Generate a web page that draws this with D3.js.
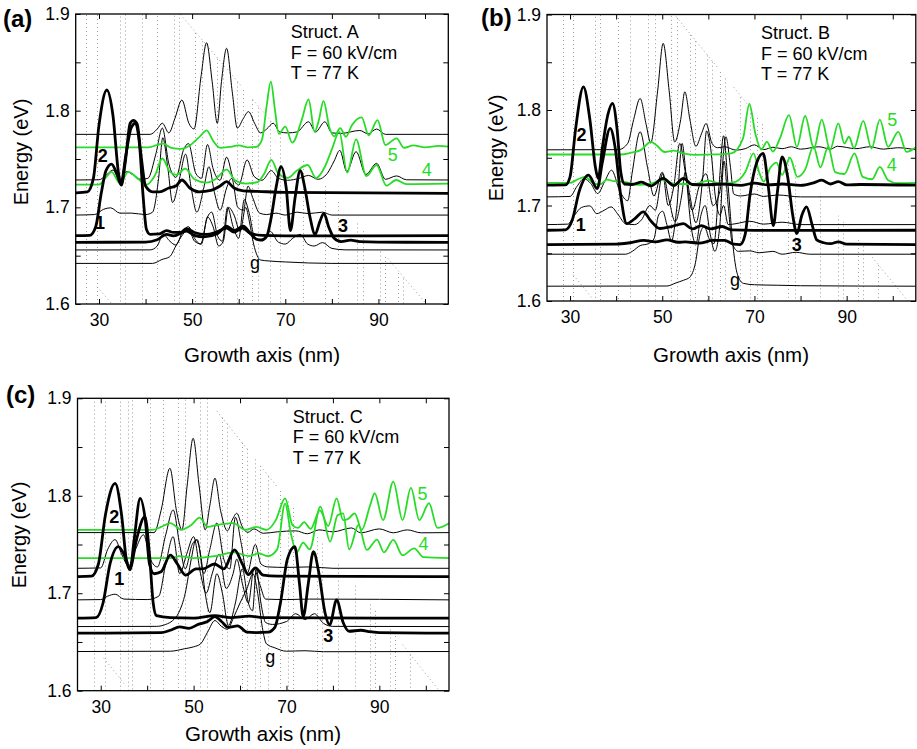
<!DOCTYPE html>
<html>
<head>
<meta charset="utf-8">
<script src="https://cdn.jsdelivr.net/npm/d3@7"></script>
<style>
  body { margin: 0; background: #fff; }
  svg { display: block; }
  text { font-family: "Liberation Sans", Arial, Helvetica, sans-serif; }
</style>
</head>
<body>
<div id="container"></div>
<script>
// axes
const xTicks = [30, 40, 50, 60, 70, 80, 90, 100];
const xTickLabels = [30, 50, 70, 90];
const yTicks = [1.6, 1.65, 1.7, 1.75, 1.8, 1.85, 1.9];
const yTickLabels = [1.6, 1.7, 1.8, 1.9];
const xDomain = [25, 105];
const yDomain = [1.6, 1.9];

// ---------- panel (a), Struct. A ----------
const aThick1 = [[25,1.6707],[28,1.671],[29.3,1.68],[30.5,1.715],[31.5,1.738],[32.7,1.7448],[33.8,1.735],[34.7,1.724],[35.8,1.755],[36.9,1.782],[37.8,1.787],[38.7,1.765],[39.5,1.71],[40.2,1.677],[41,1.672],[43,1.6725],[44.5,1.676],[46,1.674],[47.5,1.674],[48.8,1.678],[50.5,1.674],[53,1.672],[55,1.674],[57.4,1.6785],[59,1.6745],[60.8,1.6785],[62.5,1.673],[65,1.671],[70,1.6705],[105,1.6707]];
const aThick2 = [[25,1.715],[27.5,1.716],[28.8,1.73],[30,1.785],[31.7,1.8214],[33,1.795],[34.2,1.735],[34.8,1.723],[35.6,1.745],[36.7,1.787],[37.4,1.79],[38.2,1.786],[39,1.755],[40,1.722],[41.5,1.716],[43,1.716],[45,1.72],[46.5,1.722],[47.8,1.7283],[49.5,1.72],[51.5,1.716],[54,1.7175],[56,1.722],[57.4,1.7265],[59,1.72],[61,1.717],[64,1.7165],[70,1.7155],[105,1.7145]];
const aThick3 = [[25,1.6638],[40,1.664],[42.5,1.6665],[44.5,1.672],[46,1.6705],[48.8,1.6755],[50.5,1.671],[52.5,1.6695],[55.5,1.673],[57.4,1.6805],[59,1.676],[61,1.6805],[62.5,1.673],[63.8,1.667],[64.8,1.666],[66,1.67],[67,1.69],[68,1.72],[69.1,1.742],[70.2,1.72],[71.1,1.676],[72.1,1.71],[73.2,1.738],[74.2,1.72],[75.3,1.69],[76.4,1.672],[77.4,1.685],[78.3,1.6938],[79.3,1.68],[80.5,1.668],[82,1.6645],[84,1.666],[86,1.6645],[90,1.664],[105,1.6638]];
const aGreen4 = [[25,1.7235],[30,1.7235],[31.5,1.731],[32.7,1.7366],[34.5,1.7248],[36.3,1.7366],[38.5,1.729],[40.2,1.7235],[42,1.733],[43.6,1.7505],[45.2,1.737],[46.6,1.7335],[48.5,1.74],[50.5,1.729],[53,1.7255],[55,1.729],[57.4,1.739],[59.2,1.728],[61.5,1.7245],[64,1.726],[65.5,1.735],[67,1.749],[68.5,1.735],[70.5,1.7305],[72.5,1.738],[74.8,1.7438],[76.6,1.7303],[78.5,1.742],[80,1.76],[81.6,1.778],[83.3,1.7359],[85.2,1.7703],[87.4,1.7324],[89.6,1.7438],[91.7,1.7224],[93.8,1.7283],[96,1.724],[105,1.7245]];
const aGreen5 = [[25,1.762],[40.5,1.762],[42.2,1.764],[43.8,1.766],[45.5,1.7615],[47.5,1.7605],[49.5,1.764],[51.8,1.774],[53.1,1.7797],[54.6,1.768],[56,1.7615],[58,1.7625],[60,1.764],[62,1.762],[63.8,1.7625],[65,1.77],[66,1.805],[66.9,1.83],[67.8,1.8],[68.6,1.776],[70,1.7834],[71.5,1.767],[73.5,1.79],[75,1.8117],[76.3,1.778],[77.2,1.79],[78.2,1.81],[79.5,1.782],[80.5,1.7735],[81.8,1.782],[83,1.773],[84.3,1.785],[86.4,1.7931],[87.9,1.7745],[89.8,1.7903],[91.5,1.7645],[93.9,1.7714],[95.5,1.7615],[97.5,1.764],[100,1.762],[103,1.7635],[105,1.7628]];
const aThin1 = [[25,1.7755],[41,1.7755],[42.5,1.781],[43.6,1.787],[45,1.777],[46.3,1.792],[47.8,1.811],[49.3,1.787],[50.4,1.781],[51.9,1.835],[53.1,1.8703],[54.3,1.83],[55.4,1.787],[56.3,1.83],[57.4,1.8645],[58.6,1.82],[59.7,1.782],[61,1.792],[62.1,1.799],[63.4,1.787],[64.7,1.777],[66,1.781],[67.4,1.787],[68.8,1.778],[70.5,1.777],[72.5,1.778],[75,1.7885],[76.5,1.778],[78.5,1.7885],[80,1.777],[82,1.7765],[86,1.7795],[87.8,1.776],[89.6,1.781],[91.5,1.7755],[105,1.7755]];
const aThin2 = [[25,1.7283],[30,1.7285],[31.5,1.733],[33,1.7386],[34.5,1.728],[35.9,1.737],[37.5,1.733],[39,1.729],[40.5,1.73],[42.2,1.755],[43.6,1.782],[45,1.745],[46.5,1.731],[48.2,1.76],[49.2,1.766],[50.8,1.735],[52,1.73],[53.3,1.765],[54.5,1.74],[56,1.728],[57.4,1.752],[58.8,1.73],[60,1.723],[61.8,1.749],[63.3,1.732],[65,1.728],[67,1.738],[68.5,1.73],[70.5,1.728],[73,1.73],[75,1.733],[77,1.729],[79,1.735],[80.5,1.748],[81.7,1.759],[83.2,1.737],[85.2,1.7576],[87.3,1.734],[89.6,1.7455],[91.5,1.729],[93.9,1.7325],[96,1.7285],[105,1.7283]];
const aThin3 = [[25,1.692],[29,1.6925],[31,1.698],[32.5,1.6995],[34.5,1.694],[37,1.694],[40,1.6925],[41.5,1.695],[42.8,1.73],[43.7,1.772],[44.8,1.74],[45.8,1.705],[47.3,1.73],[48.6,1.755],[49.8,1.72],[51,1.695],[52.5,1.72],[53.6,1.742],[54.8,1.715],[56,1.697],[57.4,1.72],[58.5,1.73],[59.8,1.7],[61,1.697],[62,1.722],[63,1.71],[64.5,1.694],[66,1.6925],[68,1.694],[70,1.692],[72.5,1.695],[75,1.6935],[78,1.695],[80,1.692],[105,1.692]];
const aThin4 = [[25,1.6559],[41,1.656],[42.5,1.66],[43.8,1.672],[45.2,1.665],[46.5,1.661],[48,1.675],[49.2,1.68],[50.5,1.668],[51.8,1.662],[53.3,1.69],[54.2,1.695],[55.5,1.67],[56.5,1.665],[57.6,1.7],[58.8,1.68],[60,1.668],[61.2,1.708],[62.2,1.695],[63.5,1.668],[65,1.667],[66.8,1.675],[68.5,1.664],[70,1.662],[71.6,1.668],[73.2,1.672],[74.8,1.662],[76.2,1.66],[78,1.6635],[80,1.6575],[83,1.656],[105,1.6559]];
const aGround = [[25,1.642],[41.5,1.642],[43.5,1.646],[45.2,1.649],[46.5,1.66],[48,1.672],[49.2,1.678],[50.5,1.665],[52,1.662],[53.3,1.69],[54.5,1.68],[55.7,1.66],[56.7,1.665],[57.8,1.7],[59,1.692],[60.3,1.675],[61.5,1.7],[62.3,1.685],[63.2,1.662],[64.7,1.6455],[66.5,1.6445],[70,1.6435],[80,1.642],[105,1.642]];
const aLabels = [["2",30.8,1.7531],["1",30.2,1.6838],["3",82.4,1.6807],["5",93.1,1.7541],["4",100.4,1.7386],["g",63.5,1.6424]];
const aInterfaces = [27.2,29.5,34.5,35.6,39.2,42.4,46.0,47.1,50.6,52.1,55.3,56.7,59.6,61.0,62.8,64.2,66.7,68.9,73.9,78.5,81.4,85.3,86.7,90.4,91.4,94.3,95.3];
const aBarrierTop = [[51.3,1.878],[99.6,1.604]];
const aBarrierSpans = [[47.5,60.5],[63,67],[92,105]];
const aWellBottom = [[30.2,1.6145],[35.2,1.5861]];
const aWellSpans = [[29.6,34]];

// ---------- panel (b), Struct. B ----------
const bThick1 = [[25,1.6741],[29,1.6745],[30.5,1.685],[32,1.715],[34,1.7318],[35.9,1.7178],[37,1.745],[38.7,1.7807],[39.8,1.76],[41,1.71],[42.3,1.6811],[44,1.686],[45.9,1.6933],[47.5,1.684],[49.5,1.6759],[52,1.678],[54.6,1.681],[56.5,1.6755],[58.5,1.679],[60.5,1.6755],[63,1.678],[65,1.6745],[70,1.674],[105,1.6741]];
const bThick2 = [[25,1.7213],[29,1.7215],[30,1.73],[31.2,1.78],[32.9,1.8243],[34.3,1.79],[35.5,1.74],[36.1,1.7283],[37,1.76],[38.2,1.795],[39.2,1.807],[40.2,1.78],[41,1.735],[41.8,1.7225],[43.5,1.722],[45.5,1.7245],[47.5,1.7205],[50.2,1.7283],[52.5,1.721],[54.6,1.7283],[56.5,1.722],[59,1.7215],[63,1.7225],[67,1.721],[70,1.7235],[73,1.7215],[76,1.7225],[80,1.721],[83,1.724],[84.6,1.7265],[86.5,1.7225],[88.2,1.725],[90,1.7215],[93,1.722],[105,1.7213]];
const bThick3 = [[25,1.6591],[40,1.6595],[43,1.661],[46,1.6635],[48.5,1.662],[51,1.664],[53.5,1.6615],[55,1.662],[58,1.6605],[61,1.6635],[63.5,1.6635],[65.5,1.6595],[66.9,1.659],[68,1.67],[69,1.71],[70.5,1.745],[71.9,1.7545],[73,1.72],[74.1,1.679],[75,1.715],[76,1.751],[77.2,1.73],[78.3,1.69],[79.2,1.6706],[80.3,1.69],[81.3,1.6985],[82.5,1.68],[83.5,1.664],[85,1.661],[86.5,1.66],[88.2,1.662],[90,1.6595],[105,1.6591]];
const bGreen4 = [[25,1.7236],[30,1.7236],[31.5,1.727],[33.3,1.73],[35,1.7235],[36.5,1.722],[38,1.727],[39.5,1.7255],[42,1.7245],[45,1.7215],[47.5,1.723],[50,1.7265],[53,1.7225],[57,1.7225],[60,1.726],[63,1.7225],[66,1.725],[68,1.735],[69.8,1.7545],[71,1.735],[72,1.725],[73.5,1.74],[74.8,1.745],[76,1.732],[77.7,1.75],[79.3,1.73],[81,1.7375],[82.8,1.762],[84.3,1.74],[86,1.7615],[87.5,1.735],[89.5,1.733],[91.7,1.7545],[93.5,1.73],[95.5,1.7275],[97.2,1.7405],[99,1.7265],[101,1.7235],[105,1.7236]];
const bGreen5 = [[25,1.7534],[41,1.7534],[43,1.755],[45.5,1.7585],[47.5,1.7667],[49,1.762],[50.5,1.756],[52.5,1.7575],[54.5,1.7545],[57,1.753],[62,1.7535],[65,1.7545],[67.5,1.77],[68.9,1.8063],[70.2,1.775],[71.5,1.7585],[72.7,1.7667],[74,1.7565],[75.5,1.77],[77.5,1.7947],[79.2,1.7614],[81,1.7937],[82.9,1.7597],[84.6,1.79],[86.4,1.7583],[88.2,1.7859],[89.5,1.765],[90.5,1.772],[91.6,1.76],[93.6,1.7887],[95.4,1.7597],[97.2,1.79],[99,1.7614],[101.2,1.777],[103,1.7562],[105,1.761]];
const bThin1 = [[25,1.7583],[40.5,1.7585],[42.5,1.765],[43.8,1.79],[45.2,1.8121],[46.5,1.785],[47.5,1.7655],[49,1.82],[50.2,1.8698],[51.5,1.82],[52.7,1.7665],[54,1.79],[54.9,1.8191],[56,1.79],[57.3,1.762],[58.5,1.775],[59.5,1.7859],[60.8,1.765],[62,1.7605],[63.5,1.7615],[66,1.758],[68,1.7595],[70,1.7635],[72,1.7585],[74,1.761],[76,1.7595],[78,1.7615],[80,1.759],[84,1.7615],[86.5,1.759],[88,1.762],[92,1.7595],[95,1.7615],[98,1.759],[101,1.7605],[105,1.7583]];
const bThin2 = [[25,1.709],[30,1.7095],[31.5,1.72],[33,1.728],[34.5,1.723],[36,1.7125],[37.5,1.725],[39,1.737],[40.8,1.715],[42.5,1.705],[43.5,1.735],[45.2,1.7772],[46.8,1.74],[48.2,1.71],[50,1.735],[51.3,1.7],[52.5,1.72],[53.8,1.765],[55,1.735],[56.5,1.695],[58,1.72],[59.5,1.7333],[61,1.7],[62.5,1.715],[63.8,1.772],[64.8,1.74],[65.5,1.712],[67,1.71],[70,1.712],[72,1.7095],[75,1.711],[80,1.709],[105,1.709]];
const bThin3 = [[25,1.68],[29.5,1.6805],[31,1.69],[32.5,1.698],[34.3,1.6996],[35.8,1.6915],[37.4,1.695],[38.9,1.6985],[40.5,1.69],[42,1.681],[44,1.68],[45.5,1.685],[47.3,1.7],[48.5,1.695],[50.1,1.7335],[51.5,1.705],[52.8,1.683],[54.2,1.71],[55,1.735],[56,1.71],[57.3,1.682],[58.8,1.73],[59.6,1.778],[60.5,1.76],[61.5,1.71],[62.5,1.69],[63.3,1.7],[64.3,1.68],[66,1.681],[69,1.6835],[72,1.6805],[76,1.6825],[80,1.68],[105,1.68]];
const bThin4 = [[25,1.649],[42,1.649],[43.5,1.652],[45.2,1.658],[47,1.66],[48.2,1.665],[49.2,1.69],[50.1,1.694],[51,1.68],[52,1.663],[53.2,1.7],[54.3,1.765],[55.2,1.73],[56.2,1.68],[57.3,1.66],[58.4,1.69],[59.3,1.7],[60.4,1.67],[61.4,1.652],[62.5,1.68],[63.4,1.7465],[64.3,1.7],[65.2,1.66],[66.5,1.652],[69,1.6525],[71,1.6505],[74,1.652],[76,1.649],[79,1.651],[82,1.649],[105,1.649]];
const bGround = [[25,1.6155],[51,1.6157],[53,1.619],[54.6,1.6217],[56,1.625],[57.2,1.64],[58.2,1.67],[59.1,1.678],[60.2,1.665],[61.2,1.66],[62.3,1.72],[63.3,1.773],[64.3,1.72],[65.3,1.66],[66.3,1.628],[67.6,1.6185],[70,1.617],[75,1.6165],[80,1.616],[105,1.6155]];
const bLabels = [["2",32.5,1.7737],["1",32.3,1.6804],["3",79.2,1.6591],["5",99.9,1.7894],["4",99.8,1.7422],["g",65.8,1.6218]];
const bInterfaces = [28.5,30.7,35.4,36.5,40.5,43.0,47.0,48.4,52.0,53.1,56.0,57.1,59.6,60.7,62.5,63.6,66.9,69.0,70.5,71.6,77.3,78.8,84.2,88.2,89.3,92.5,93.6,96.9];
const bBarrierTop = [[56,1.88],[97.2,1.636]];
const bBarrierSpans = [[53,62],[65.5,69],[95,105]];
const bWellBottom = [[31.1,1.625],[35.1,1.601]];
const bWellSpans = [[30.7,35]];

// ---------- panel (c), Struct. C ----------
const cThick1 = [[25,1.6744],[29,1.675],[30.5,1.69],[32,1.73],[33.8,1.7479],[35,1.74],[36.3,1.7256],[37.7,1.755],[39.5,1.7786],[40.5,1.74],[41.3,1.69],[42,1.677],[45,1.675],[50,1.6745],[54.6,1.677],[58,1.675],[62,1.6765],[65,1.675],[105,1.6744]];
const cThick2 = [[25,1.7171],[28,1.7175],[29.5,1.73],[31,1.78],[33.1,1.8128],[34.5,1.78],[35.5,1.735],[36.3,1.724],[37.2,1.755],[38.5,1.7974],[39.6,1.775],[40.5,1.73],[41.5,1.72],[43,1.722],[45,1.739],[46.5,1.73],[48.3,1.7185],[50.5,1.725],[52,1.725],[54.5,1.73],[56.5,1.725],[58.8,1.7444],[60.5,1.73],[61.8,1.719],[63.3,1.726],[65,1.7185],[68,1.7175],[105,1.7171]];
const cThick3 = [[25,1.659],[43,1.6595],[45,1.662],[47,1.6655],[49,1.664],[51,1.668],[53,1.671],[54.6,1.676],[56,1.671],[57.5,1.665],[59.5,1.6665],[61.5,1.66],[63.5,1.6595],[66,1.66],[67.5,1.665],[68.7,1.69],[70.2,1.735],[71.8,1.7479],[72.8,1.71],[73.6,1.676],[74.7,1.71],[75.8,1.7427],[77,1.72],[78.3,1.68],[79.3,1.6675],[80.8,1.6932],[82.2,1.67],[83.5,1.661],[86,1.662],[88,1.6605],[90,1.6595],[105,1.659]];
const cGreen4 = [[25,1.736],[45,1.736],[47,1.738],[50,1.736],[54.5,1.738],[58.7,1.742],[62,1.738],[64,1.741],[66,1.738],[68,1.745],[69.7,1.792],[71,1.76],[72.2,1.742],[73.6,1.752],[75,1.745],[77.3,1.7889],[79.4,1.753],[81,1.78],[82.2,1.782],[83.5,1.745],[85.5,1.77],[87.3,1.7444],[89.5,1.755],[91,1.742],[93,1.7547],[95,1.739],[97.5,1.746],[99.5,1.737],[105,1.736]];
const cGreen5 = [[25,1.765],[41,1.765],[43,1.768],[45,1.772],[47.3,1.765],[49.5,1.77],[51.3,1.7776],[53,1.768],[55,1.77],[58.5,1.772],[61.2,1.765],[63.5,1.768],[65.7,1.765],[67.7,1.775],[69.7,1.7974],[71.3,1.77],[72.5,1.767],[73.8,1.773],[75.2,1.766],[77.2,1.785],[79,1.769],[80.8,1.7974],[82.2,1.775],[83.2,1.776],[84.7,1.782],[86.2,1.765],[88,1.79],[89,1.8026],[90.8,1.775],[93,1.8145],[95,1.775],[96.8,1.808],[98.6,1.775],[100.7,1.7923],[102.5,1.767],[105,1.7718]];
const cThin1 = [[25,1.7622],[41.5,1.7622],[43,1.785],[44.9,1.8282],[46.3,1.785],[47.5,1.765],[48.6,1.81],[49.9,1.859],[51.2,1.81],[52.5,1.765],[53.5,1.79],[54.6,1.818],[55.8,1.785],[57.3,1.764],[58.3,1.775],[59.3,1.782],[60.5,1.768],[61.7,1.7625],[63,1.766],[65,1.7615],[68,1.763],[72,1.764],[74.5,1.761],[77,1.765],[80,1.763],[84,1.767],[86,1.762],[90,1.766],[93,1.762],[96,1.765],[99,1.762],[105,1.7622]];
const cThin2 = [[25,1.7256],[30,1.726],[31.5,1.745],[33.1,1.755],[34.5,1.74],[36,1.728],[37.5,1.745],[39.2,1.76],[40.7,1.735],[42.2,1.727],[44,1.76],[45.6,1.7855],[47,1.75],[48.2,1.725],[49.7,1.75],[50.8,1.755],[52.2,1.72],[53.5,1.745],[55,1.772],[56.5,1.735],[57.8,1.725],[59,1.778],[60.3,1.75],[61.5,1.72],[63.3,1.75],[64.5,1.73],[66,1.727],[70,1.7265],[75,1.727],[80,1.7256],[105,1.7256]];
const cThin3 = [[25,1.6932],[30,1.6935],[31.5,1.697],[33.1,1.699],[35,1.694],[40,1.6935],[42.5,1.697],[44,1.73],[45.6,1.758],[47,1.72],[48.5,1.74],[50,1.758],[51.5,1.72],[52.7,1.7],[54,1.72],[55.5,1.74],[57,1.705],[58.5,1.72],[59.3,1.735],[60.5,1.71],[61.8,1.69],[63,1.725],[64.2,1.71],[65.5,1.694],[70,1.6935],[75,1.694],[105,1.6932]];
const cThin4 = [[25,1.6658],[42,1.666],[44,1.668],[45.5,1.672],[46.8,1.68],[48.2,1.7],[49.5,1.735],[50.5,1.755],[51.5,1.74],[52.5,1.7],[53.5,1.68],[55,1.72],[56.2,1.7],[57.5,1.667],[59,1.69],[60.5,1.725],[61.8,1.69],[62.7,1.682],[63.5,1.725],[64.5,1.69],[65.5,1.67],[67,1.668],[70,1.671],[72,1.679],[74,1.673],[76,1.679],[78,1.669],[80,1.666],[105,1.6658]];
const cGround = [[25,1.6402],[45,1.6405],[48,1.643],[50,1.645],[51.5,1.648],[53,1.66],[54.6,1.672],[56,1.666],[57.3,1.663],[58.6,1.675],[60,1.69],[61.5,1.705],[62.8,1.72],[63.8,1.7],[64.8,1.665],[65.7,1.648],[67.5,1.644],[70,1.6405],[74,1.641],[78,1.64],[105,1.6402]];
const cLabels = [["2",32.9,1.7786],["1",34.0,1.7144],["3",79.0,1.6562],["5",99.3,1.8026],["4",99.5,1.7513],["g",66.5,1.635]];
const cInterfaces = [28.6,30.9,34.2,35.9,36.7,40.6,43.5,46.7,48.2,51.4,52.8,56.1,57.1,60.4,61.4,63.2,64.3,66.1,68.6,70.4,71.5,76.5,77.6,81.2,84.8,88.0,89.1,92.3,93.4,96.6];
const cBarrierTop = [[57.1,1.8744],[101.6,1.6077]];
const cBarrierSpans = [[55,61.5],[65,68],[95,105]];
const cWellBottom = [[30.9,1.632],[34.9,1.608]];
const cWellSpans = [[30.6,35]];

const noteLines = ["F = 60 kV/cm", "T = 77 K"];

const panels = [
  { letter: "(a)", struct: "Struct. A", left: 75.7, right: 448.3, top: 14, bottom: 304,
    letterPos: [3, 27], notePos: [290.7, 38], yTitle: [21, 152], xTitle: [262, 362],
    thin: [aThin1, aThin2, aThin3, aThin4, aGround], green: [aGreen4, aGreen5],
    thick: [aThick1, aThick2, aThick3], labels: aLabels,
    interfaces: aInterfaces, barrierTop: aBarrierTop, barrierSpans: aBarrierSpans,
    wellBottom: aWellBottom, wellSpans: aWellSpans },
  { letter: "(b)", struct: "Struct. B", left: 547, right: 915.8, top: 14.5, bottom: 301,
    letterPos: [481, 26], notePos: [761, 39], yTitle: [496, 148], xTitle: [731, 362],
    thin: [bThin1, bThin2, bThin3, bThin4, bGround], green: [bGreen4, bGreen5],
    thick: [bThick1, bThick2, bThick3], labels: bLabels,
    interfaces: bInterfaces, barrierTop: bBarrierTop, barrierSpans: bBarrierSpans,
    wellBottom: bWellBottom, wellSpans: bWellSpans },
  { letter: "(c)", struct: "Struct. C", left: 77.5, right: 449, top: 398.3, bottom: 690.7,
    letterPos: [6, 403], notePos: [292.7, 422.7], yTitle: [18.5, 535], xTitle: [263, 741],
    thin: [cThin1, cThin2, cThin3, cThin4, cGround], green: [cGreen4, cGreen5],
    thick: [cThick1, cThick2, cThick3], labels: cLabels,
    interfaces: cInterfaces, barrierTop: cBarrierTop, barrierSpans: cBarrierSpans,
    wellBottom: cWellBottom, wellSpans: cWellSpans }
];

const width = 917;
const height = 749;
const green = "#27dc27";

const svg = d3.select("#container").append("svg")
  .attr("width", width).attr("height", height);

const isLabelled = (list, d) => list.some((v) => Math.abs(v - d) < 1e-6);

panels.forEach((p, i) => {
  const x = d3.scaleLinear().domain(xDomain).range([p.left, p.right]);
  const y = d3.scaleLinear().domain(yDomain).range([p.bottom, p.top]);

  const clipId = `clip-${i}`;
  svg.append("clipPath").attr("id", clipId)
    .append("rect")
    .attr("x", p.left).attr("y", p.top)
    .attr("width", p.right - p.left).attr("height", p.bottom - p.top);

  const plot = svg.append("g").attr("clip-path", `url(#${clipId})`);

  // band profile (dotted)
  const topEdge = d3.scaleLinear()
    .domain(p.barrierTop.map((d) => d[0])).range(p.barrierTop.map((d) => d[1]));
  const botEdge = d3.scaleLinear()
    .domain(p.wellBottom.map((d) => d[0])).range(p.wellBottom.map((d) => d[1]));
  const seg = d3.line().x((d) => x(d[0])).y((d) => y(d[1]));

  const profile = plot.append("g")
    .attr("fill", "none")
    .attr("stroke", "#9c9c9c")
    .attr("stroke-width", 1)
    .attr("stroke-dasharray", "1,3");

  profile.selectAll("path.iface")
    .data(p.interfaces)
    .join("path")
    .attr("class", "iface")
    .attr("d", (xi) => {
      const px = Math.round(x(xi)) + 0.5;
      return `M${px},${y(Math.min(botEdge(xi), yDomain[0]))}V${y(topEdge(xi))}`;
    });

  profile.selectAll("path.btop")
    .data(p.barrierSpans)
    .join("path")
    .attr("class", "btop")
    .attr("d", (s) => seg(s.map((v) => [v, topEdge(v)])));

  profile.selectAll("path.wbot")
    .data(p.wellSpans)
    .join("path")
    .attr("class", "wbot")
    .attr("d", (s) => seg(s.map((v) => [v, botEdge(v)])));

  // wavefunctions
  const curve = d3.line()
    .x((d) => x(d[0]))
    .y((d) => y(d[1]))
    .curve(d3.curveMonotoneX);

  plot.selectAll("path.thin")
    .data(p.thin)
    .join("path")
    .attr("class", "thin")
    .attr("d", curve)
    .attr("fill", "none")
    .attr("stroke", "#000")
    .attr("stroke-width", 1);

  plot.selectAll("path.green")
    .data(p.green)
    .join("path")
    .attr("class", "green")
    .attr("d", curve)
    .attr("fill", "none")
    .attr("stroke", green)
    .attr("stroke-width", 1.8);

  plot.selectAll("path.thick")
    .data(p.thick)
    .join("path")
    .attr("class", "thick")
    .attr("d", curve)
    .attr("fill", "none")
    .attr("stroke", "#000")
    .attr("stroke-width", 2.8);

  // state labels
  svg.append("g")
    .selectAll("text")
    .data(p.labels)
    .join("text")
    .attr("x", (d) => x(d[1]))
    .attr("y", (d) => y(d[2]))
    .attr("dy", "0.35em")
    .attr("text-anchor", "middle")
    .attr("font-size", 18)
    .attr("font-weight", (d) => (["1", "2", "3"].includes(d[0]) ? "bold" : "normal"))
    .attr("fill", (d) => (["4", "5"].includes(d[0]) ? green : "#000"))
    .text((d) => d[0]);

  // axes (inward ticks, Matlab box)
  const yAxisL = svg.append("g")
    .attr("transform", `translate(${p.left},0)`)
    .call(d3.axisLeft(y).tickValues(yTicks).tickSize(-5).tickPadding(6)
      .tickFormat((d) => (isLabelled(yTickLabels, d) ? d3.format(".1f")(d) : "")));
  const yAxisR = svg.append("g")
    .attr("transform", `translate(${p.right},0)`)
    .call(d3.axisRight(y).tickValues(yTicks).tickSize(-5).tickFormat(""));
  const xAxisB = svg.append("g")
    .attr("transform", `translate(0,${p.bottom})`)
    .call(d3.axisBottom(x).tickValues(xTicks).tickSize(-5).tickPadding(10)
      .tickFormat((d) => (isLabelled(xTickLabels, d) ? d : "")));
  const xAxisT = svg.append("g")
    .attr("transform", `translate(0,${p.top})`)
    .call(d3.axisTop(x).tickValues(xTicks).tickSize(-5).tickFormat(""));

  [yAxisL, yAxisR, xAxisB, xAxisT].forEach((a) => {
    a.select(".domain").remove();
    a.selectAll("line").attr("stroke", "#000").attr("stroke-width", 1);
    a.selectAll("text")
      .attr("font-size", 17.5)
      .attr("fill", "#000")
      .style("font-family", '"Liberation Sans", Arial, Helvetica, sans-serif');
  });

  svg.append("rect")
    .attr("x", p.left).attr("y", p.top)
    .attr("width", p.right - p.left).attr("height", p.bottom - p.top)
    .attr("fill", "none")
    .attr("stroke", "#000")
    .attr("stroke-width", 1.3);

  // titles
  svg.append("text")
    .attr("transform", `translate(${p.yTitle[0]},${p.yTitle[1]}) rotate(-90)`)
    .attr("text-anchor", "middle")
    .attr("dy", "0.35em")
    .attr("font-size", 20)
    .text("Energy (eV)");

  svg.append("text")
    .attr("x", p.xTitle[0]).attr("y", p.xTitle[1])
    .attr("text-anchor", "middle")
    .attr("font-size", 20.5)
    .text("Growth axis (nm)");

  svg.append("text")
    .attr("x", p.letterPos[0]).attr("y", p.letterPos[1])
    .attr("font-size", 24)
    .attr("font-weight", "bold")
    .text(p.letter);

  svg.append("g")
    .selectAll("text")
    .data([p.struct, ...noteLines])
    .join("text")
    .attr("x", p.notePos[0])
    .attr("y", (d, k) => p.notePos[1] + k * 20.5)
    .attr("font-size", 18)
    .text((d) => d);
});
</script>
</body>
</html>
